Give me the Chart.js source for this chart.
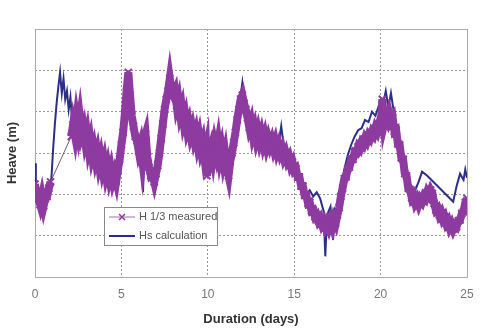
<!DOCTYPE html>
<html>
<head>
<meta charset="utf-8">
<script src="https://cdn.jsdelivr.net/npm/chart.js@4"></script>
<style>
  html, body { margin: 0; padding: 0; background: #fff; }
  #wrap { width: 500px; height: 335px; }
</style>
</head>
<body>
<div id="wrap"><canvas id="heaveChart" width="500" height="335"></canvas></div>
<script>
// Heave records (y axis unlabelled)
const xTicks = [0, 5, 10, 15, 20, 25];

const measuredLabel = "H 1/3 measured";
const measuredDays = [
  0.0, 0.1, 0.2, 0.3, 0.4, 0.5, 0.6, 0.7, 0.8, 0.9,
  2.1, 2.2, 2.3, 2.4, 2.5, 2.6, 2.7, 2.8, 2.9, 3.0,
  3.1, 3.2, 3.3, 3.4, 3.5, 3.6, 3.7, 3.8, 3.9, 4.0,
  4.1, 4.2, 4.3, 4.4, 4.5, 4.6, 4.7, 4.8, 4.9, 5.0,
  5.1, 5.2, 5.3, 5.4, 5.5, 5.6, 5.7, 5.8, 5.9, 6.0,
  6.1, 6.2, 6.3, 6.4, 6.5, 6.6, 6.7, 6.8, 6.9, 7.0,
  7.1, 7.2, 7.3, 7.4, 7.5, 7.6, 7.7, 7.8, 7.9, 8.0,
  8.1, 8.2, 8.3, 8.4, 8.5, 8.6, 8.7, 8.8, 8.9, 9.0,
  9.1, 9.2, 9.3, 9.4, 9.5, 9.6, 9.7, 9.8, 9.9, 9.95,
  10.1, 10.2, 10.3, 10.4, 10.5, 10.6, 10.7, 10.8, 10.9, 11.0,
  11.1, 11.2, 11.3, 11.4, 11.5, 11.6, 11.7, 11.8, 11.9, 12.0,
  12.1, 12.2, 12.3, 12.4, 12.5, 12.6, 12.7, 12.8, 12.9, 13.0,
  13.1, 13.2, 13.3, 13.4, 13.5, 13.6, 13.7, 13.8, 13.9, 14.0,
  14.1, 14.2, 14.3, 14.4, 14.5, 14.6, 14.7, 14.8, 14.9, 15.0,
  15.1, 15.2, 15.3, 15.4, 15.5, 15.6, 15.7, 15.8, 15.9, 16.0,
  16.1, 16.2, 16.3, 16.4, 16.5, 16.6, 16.7, 16.8, 16.9, 17.0,
  17.1, 17.2, 17.3, 17.4, 17.5, 17.6, 17.7, 17.8, 17.9, 18.0,
  18.1, 18.2, 18.3, 18.4, 18.5, 18.6, 18.7, 18.8, 18.9, 19.0,
  19.1, 19.2, 19.3, 19.4, 19.5, 19.6, 19.7, 19.8, 19.9, 20.0,
  20.1, 20.2, 20.3, 20.4, 20.5, 20.6, 20.7, 20.8, 20.9, 21.0,
  21.1, 21.2, 21.3, 21.4, 21.5, 21.6, 21.7, 21.8, 21.9, 22.0,
  22.1, 22.2, 22.3, 22.4, 22.5, 22.6, 22.7, 22.8, 22.9, 23.0,
  23.1, 23.2, 23.3, 23.4, 23.5, 23.6, 23.7, 23.8, 23.9, 24.0,
  24.1, 24.2, 24.3, 24.4, 24.5, 24.6, 24.7, 24.8, 24.9, 25.0
];
const measuredHeave = [
  2.25, 1.95, 1.90, 1.75, 1.95, 1.72, 1.90, 1.95, 2.15, 2.30,
  3.40, 3.68, 3.45, 3.82, 3.55, 3.85, 3.48, 3.62, 3.30, 3.48,
  3.12, 3.30, 2.95, 3.12, 2.85, 3.02, 2.72, 2.90, 2.62, 2.80,
  2.50, 2.68, 2.42, 2.60, 2.35, 2.50, 2.32, 2.60, 2.85, 3.20,
  3.50, 3.95, 4.50, 4.95, 4.40, 3.90, 3.65, 3.40, 3.30, 3.05,
  3.20, 2.85, 3.30, 3.45, 2.90, 2.65, 2.45, 2.48, 2.30, 2.50,
  2.70, 3.00, 3.35, 3.70, 4.05, 4.30, 4.50, 4.80, 4.50, 4.40,
  4.50, 4.15, 4.30, 3.95, 4.10, 3.75, 3.90, 3.58, 3.72, 3.45,
  3.60, 3.35, 3.50, 3.22, 3.40, 3.10, 3.25, 2.90, 3.10, 2.45,
  3.00, 3.15, 2.90, 3.20, 3.00, 3.25, 2.90, 3.10, 2.80, 3.00,
  2.65, 2.45, 2.80, 3.00, 3.25, 3.50, 3.80, 4.05, 4.30, 4.40,
  4.20, 4.05, 3.85, 3.62, 3.75, 3.45, 3.60, 3.35, 3.52, 3.30,
  3.46, 3.24, 3.40, 3.18, 3.34, 3.18, 3.30, 3.12, 3.26, 3.05,
  3.18, 3.00, 3.10, 2.90, 3.00, 2.82, 2.90, 2.70, 2.78, 2.58,
  2.62, 2.42, 2.42, 2.20, 2.20, 1.98, 1.98, 1.78, 1.80, 1.60,
  1.62, 1.46, 1.50, 1.36, 1.42, 1.28, 1.36, 1.22, 1.32, 1.20,
  1.34, 1.22, 1.40, 1.30, 1.50, 1.68, 1.95, 2.15, 2.38, 2.42,
  2.62, 2.66, 2.85, 2.85, 3.02, 3.00, 3.15, 3.10, 3.25, 3.20,
  3.35, 3.28, 3.42, 3.36, 3.50, 3.44, 3.60, 3.52, 3.68, 3.60,
  4.30, 3.70, 3.88, 3.78, 3.95, 3.78, 3.85, 3.52, 3.55, 3.22,
  3.20, 2.88, 2.85, 2.50, 2.45, 2.15, 2.12, 1.92, 1.98, 1.80,
  1.88, 1.76, 1.88, 1.82, 1.95, 1.90, 2.05, 1.98, 2.10, 2.02,
  1.78, 1.62, 1.66, 1.50, 1.56, 1.40, 1.46, 1.30, 1.36, 1.20,
  1.28, 1.16, 1.26, 1.22, 1.36, 1.38, 1.54, 1.58, 1.80, 1.90
];

const calcLabel = "Hs calculation";
const calcDays = [
  0.0, 0.05, 0.2, 0.4, 0.6, 0.8, 0.95, 1.05, 1.15, 1.25,
  1.35, 1.45, 1.55, 1.65, 1.75, 1.85, 1.95, 2.05, 2.15, 2.3,
  2.5, 2.7, 2.9, 3.1, 3.3, 3.5, 3.7, 3.9, 4.1, 4.3,
  4.5, 4.7, 4.9, 5.1, 5.3, 5.4, 5.5, 5.7, 5.9, 6.1,
  6.25, 6.35, 6.5, 6.7, 6.9, 7.1, 7.3, 7.5, 7.7, 7.8,
  8.0, 8.3, 8.6, 8.9, 9.2, 9.5, 9.8, 10.0, 10.3, 10.6,
  10.9, 11.2, 11.5, 11.8, 12.0, 12.1, 12.3, 12.6, 12.9, 13.2,
  13.5, 13.8, 14.1, 14.25, 14.4, 14.7, 15.0, 15.3, 15.5, 15.7,
  15.9, 16.1, 16.3, 16.5, 16.7, 16.8, 16.9, 17.1, 17.25, 17.35,
  17.5, 17.7, 17.9, 18.1, 18.3, 18.5, 18.7, 18.9, 19.1, 19.3,
  19.5, 19.7, 19.9, 20.1, 20.3, 20.45, 20.6, 20.8, 21.0, 21.2,
  21.4, 21.6, 21.8, 22.0, 22.2, 22.4, 22.7, 24.2, 24.4, 24.6,
  24.8, 24.9, 25.0
];
const calcHeave = [
  2.75, 2.20, 1.95, 1.90, 1.88, 2.05, 2.40, 3.10, 3.70, 4.20,
  4.60, 4.95, 4.45, 4.80, 4.30, 4.50, 4.05, 4.35, 3.75, 3.55,
  3.65, 3.50, 3.35, 3.20, 3.05, 2.95, 2.85, 2.72, 2.60, 2.55,
  2.45, 2.42, 2.80, 3.50, 4.40, 4.85, 4.35, 3.60, 3.35, 3.10,
  2.05, 3.20, 3.00, 2.55, 2.40, 2.70, 3.30, 4.00, 4.45, 4.70,
  4.35, 4.20, 3.85, 3.65, 3.45, 3.30, 3.10, 2.95, 3.05, 3.30,
  3.00, 2.85, 3.30, 4.10, 4.70, 4.30, 4.00, 3.60, 3.50, 3.35,
  3.35, 3.30, 3.20, 3.65, 3.15, 2.95, 2.70, 2.40, 2.15, 2.00,
  2.10, 1.95, 2.05, 1.90, 1.60, 0.50, 1.50, 1.70, 0.90, 1.60,
  1.40, 2.20, 2.60, 2.95, 3.20, 3.40, 3.55, 3.60, 3.80, 3.75,
  4.00, 3.90, 4.15, 4.10, 4.50, 4.10, 4.45, 3.90, 3.50, 3.10,
  2.70, 2.35, 2.15, 2.10, 2.30, 2.55, 2.45, 1.82, 2.20, 2.50,
  2.35, 2.60, 2.40
];

const purple = "#8e3ba0";
const navy = "#2d2e86";
const font = "'Liberation Sans Narrow', 'Liberation Sans', Arial, sans-serif";

function toPoints(xs, ys) {
  return xs.map((x, i) => ({ x: x, y: ys[i] }));
}

// thin segment where the record has a gap
const isGap = (ctx) => ctx.p1.parsed.x - ctx.p0.parsed.x > 0.5;

// legend box drawn inside the plot area
const boxLegend = {
  id: "boxLegend",
  afterDraw(chart) {
    const { ctx, chartArea } = chart;
    const ds = chart.data.datasets;
    const x = chartArea.left + 69;
    const y = chartArea.top + 178;
    const w = 113, h = 38;
    ctx.save();
    ctx.fillStyle = "#fff";
    ctx.fillRect(x, y, w, h);
    ctx.strokeStyle = "#888";
    ctx.lineWidth = 1;
    ctx.strokeRect(x + 0.5, y + 0.5, w, h);
    ctx.font = "11px " + font;
    ctx.textBaseline = "middle";
    ds.forEach((d, i) => {
      const ly = y + 10 + i * 19;
      ctx.strokeStyle = i === 0 ? "#a070b0" : d.borderColor;
      ctx.lineWidth = i === 0 ? 1 : 2;
      ctx.beginPath();
      ctx.moveTo(x + 5, ly);
      ctx.lineTo(x + 31, ly);
      ctx.stroke();
      if (i === 0) {
        ctx.strokeStyle = d.borderColor;
        ctx.lineWidth = 1.5;
        ctx.beginPath();
        ctx.moveTo(x + 15, ly - 3); ctx.lineTo(x + 21, ly + 3);
        ctx.moveTo(x + 21, ly - 3); ctx.lineTo(x + 15, ly + 3);
        ctx.stroke();
      }
      ctx.fillStyle = "#555";
      ctx.fillText(d.label, x + 35, ly);
    });
    ctx.restore();
  }
};

// solid frame round the plot
const frame = {
  id: "frame",
  beforeDatasetsDraw(chart) {
    const { ctx, chartArea: a } = chart;
    ctx.save();
    ctx.strokeStyle = "#aaa";
    ctx.lineWidth = 1;
    ctx.strokeRect(a.left + 0.5, a.top + 0.5, a.width, a.height);
    ctx.restore();
  }
};

new Chart(document.getElementById("heaveChart"), {
  type: "line",
  data: {
    datasets: [{
      label: measuredLabel,
      data: toPoints(measuredDays, measuredHeave),
      borderColor: purple,
      backgroundColor: purple,
      borderWidth: 8,
      pointStyle: "crossRot",
      pointRadius: 5,
      pointBorderWidth: 2,
      pointBorderColor: purple,
      tension: 0,
      segment: {
        borderWidth: (ctx) => isGap(ctx) ? 1 : 8,
        borderColor: (ctx) => isGap(ctx) ? "#7a5a6a" : purple
      }
    }, {
      label: calcLabel,
      data: toPoints(calcDays, calcHeave),
      borderColor: navy,
      backgroundColor: navy,
      borderWidth: 2,
      pointRadius: 0,
      tension: 0
    }]
  },
  options: {
    responsive: false,
    animation: false,
    layout: { padding: { top: 29, right: 33, left: 0, bottom: 0 } },
    plugins: {
      legend: { display: false },
      tooltip: { enabled: false }
    },
    scales: {
      x: {
        type: "linear",
        min: 0,
        max: 25,
        afterBuildTicks: (s) => { s.ticks = xTicks.map(v => ({ value: v })); },
        afterFit: (s) => { s.height = 58; },
        ticks: { color: "#777", font: { family: font, size: 12 }, padding: 10 },
        grid: { color: "#999", drawTicks: false },
        border: { display: false, dash: [2, 2] },
        title: {
          display: true,
          text: "Duration (days)",
          color: "#333",
          font: { family: font, size: 13, weight: "bold" },
          padding: { top: 4, bottom: 8 }
        }
      },
      y: {
        min: 0,
        max: 6,
        afterFit: (s) => { s.width = 35; },
        ticks: { display: false, stepSize: 1 },
        grid: { color: "#999", drawTicks: false },
        border: { display: false, dash: [2, 2] },
        title: {
          display: true,
          text: "Heave (m)",
          color: "#333",
          font: { family: font, size: 13, weight: "bold" },
          padding: { top: 5, bottom: 0 }
        }
      }
    }
  },
  plugins: [frame, boxLegend]
});
</script>
</body>
</html>
